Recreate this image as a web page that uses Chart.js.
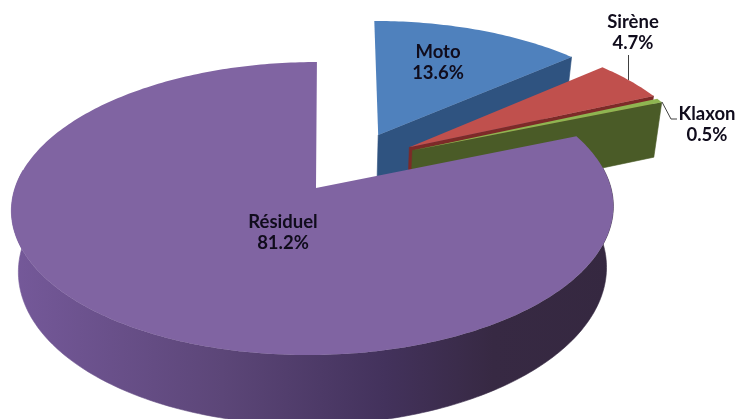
<!DOCTYPE html>
<html>
<head>
<meta charset="utf-8">
<script src="https://cdn.jsdelivr.net/npm/chart.js@4"></script>
<style>
  html, body { margin: 0; padding: 0; background: #fff; }
  #wrap { position: relative; width: 738px; height: 419px; overflow: hidden; }
</style>
</head>
<body>
<div id="wrap"><canvas id="pie"></canvas></div>
<script>
const categories = ['Moto', 'Sirène', 'Klaxon', 'Résiduel'];
const shares = [13.6, 4.7, 0.5, 81.2];

// camera used to lay the flat pie down
const TILT = 0.482;
const PERSP = 0.00047;
const VANISH_X = 345;
const DEPTH = 60;
const SHRINK = 0.023;

function project(cx, cy, u, v, z) {
    const s = 1 / (1 - PERSP * v);
    const x = VANISH_X + (cx + u - VANISH_X) * s;
    return {
        x: cx + (x - cx) * (1 - SHRINK * z),
        y: cy + v * TILT * s + z * DEPTH * s
    };
}

function fillPath(ctx, pts, fill, seam) {
    ctx.beginPath();
    pts.forEach((pt, i) => i ? ctx.lineTo(pt.x, pt.y) : ctx.moveTo(pt.x, pt.y));
    ctx.closePath();
    ctx.fillStyle = fill;
    ctx.fill();
    if (seam) {
        ctx.strokeStyle = fill;
        ctx.lineWidth = 0.6;
        ctx.stroke();
    }
}

const pie3d = {
    id: 'pie3d',
    beforeDatasetsDraw(chart, args, opts) {
        const ctx = chart.ctx;
        const arcs = chart.getDatasetMeta(0).data;

        arcs.forEach((arc, i) => {
            const p = arc.getProps(['x', 'y', 'startAngle', 'endAngle', 'outerRadius']);
            const sx = opts.shift[i][0];
            const sy = opts.shift[i][1];
            const steps = Math.max(2, Math.ceil((p.endAngle - p.startAngle) * 60));
            const angle = k => p.startAngle + (p.endAngle - p.startAngle) * k / steps;
            const at = (a, z) => project(p.x, p.y, sx + Math.cos(a) * p.outerRadius, sy + Math.sin(a) * p.outerRadius, z);
            const apex = z => project(p.x, p.y, sx + opts.apexFix[i], sy, z);

            // wall of the cut edge that faces us
            if (opts.edge[i]) {
                fillPath(ctx, [apex(0), at(p.endAngle, 0), at(p.endAngle, 1), apex(1)], opts.edge[i], true);
            }

            // rim wall as one strip, only the part turned towards the viewer
            const front = [];
            for (let k = 0; k <= steps; k++) {
                if (Math.sin(angle(k)) > -0.14) front.push(angle(k));
            }
            if (front.length > 1) {
                const rim = ctx.createLinearGradient(opts.rimFrom, 0, opts.rimTo, 0);
                opts.rimStops.forEach(st => rim.addColorStop(st[0], st[1]));
                const strip = front.map(a => at(a, 0)).concat(front.slice().reverse().map(a => at(a, 1)));
                fillPath(ctx, strip, rim, true);
            }

            // top face
            const top = [apex(0)];
            for (let k = 0; k <= steps; k++) top.push(at(angle(k), 0));
            fillPath(ctx, top, arc.options.backgroundColor, false);
        });
        return false;
    },
    afterDraw(chart, args, opts) {
        const ctx = chart.ctx;
        ctx.save();
        ctx.strokeStyle = '#404040';
        ctx.lineWidth = 1;
        opts.leaders.forEach(line => {
            ctx.beginPath();
            line.forEach((pt, i) => i ? ctx.lineTo(pt[0], pt[1]) : ctx.moveTo(pt[0], pt[1]));
            ctx.stroke();
        });
        ctx.fillStyle = '#100c1c';
        ctx.font = opts.font;
        ctx.textAlign = 'center';
        ctx.textBaseline = 'middle';
        categories.forEach((name, i) => {
            const pos = opts.labelAt[i];
            ctx.fillText(name, pos[0], pos[1]);
            ctx.fillText(shares[i].toFixed(1) + '%', pos[0], pos[1] + 21.5);
        });
        ctx.restore();
    }
};

new Chart(document.getElementById('pie'), {
    type: 'pie',
    data: {
        labels: categories,
        datasets: [{
            data: shares,
            backgroundColor: ['#4f81bd', '#c0504d', '#8fb551', '#8064a2'],
            borderWidth: 0
        }]
    },
    options: {
        responsive: true,
        maintainAspectRatio: false,
        animation: false,
        events: [],
        radius: 298,
        layout: { padding: { left: 0, right: 106, top: 0, bottom: 43 } },
        plugins: {
            legend: { display: false },
            tooltip: { enabled: false },
            pie3d: {
                shift: [[64, -116], [96, -88], [99, -81], [-3, 0]],
                apexFix: [0, 0, 0, 3],
                edge: ['#2f5380', '#7d2a28', '#4a5b27', null],
                rimStops: [[0, '#75599a'], [0.35, '#5c4678'], [0.62, '#43325c'], [0.8, '#372943'], [1, '#352840']],
                rimFrom: 11,
                rimTo: 614,
                leaders: [
                    [[628.5, 55], [628.5, 80]],
                    [[662, 102], [671, 119], [677, 119]]
                ],
                labelAt: [[438, 52], [633, 22], [707, 114], [283, 222]],
                font: 'bold 18.5px Lato'
            }
        }
    },
    plugins: [pie3d]
});
</script>
</body>
</html>
